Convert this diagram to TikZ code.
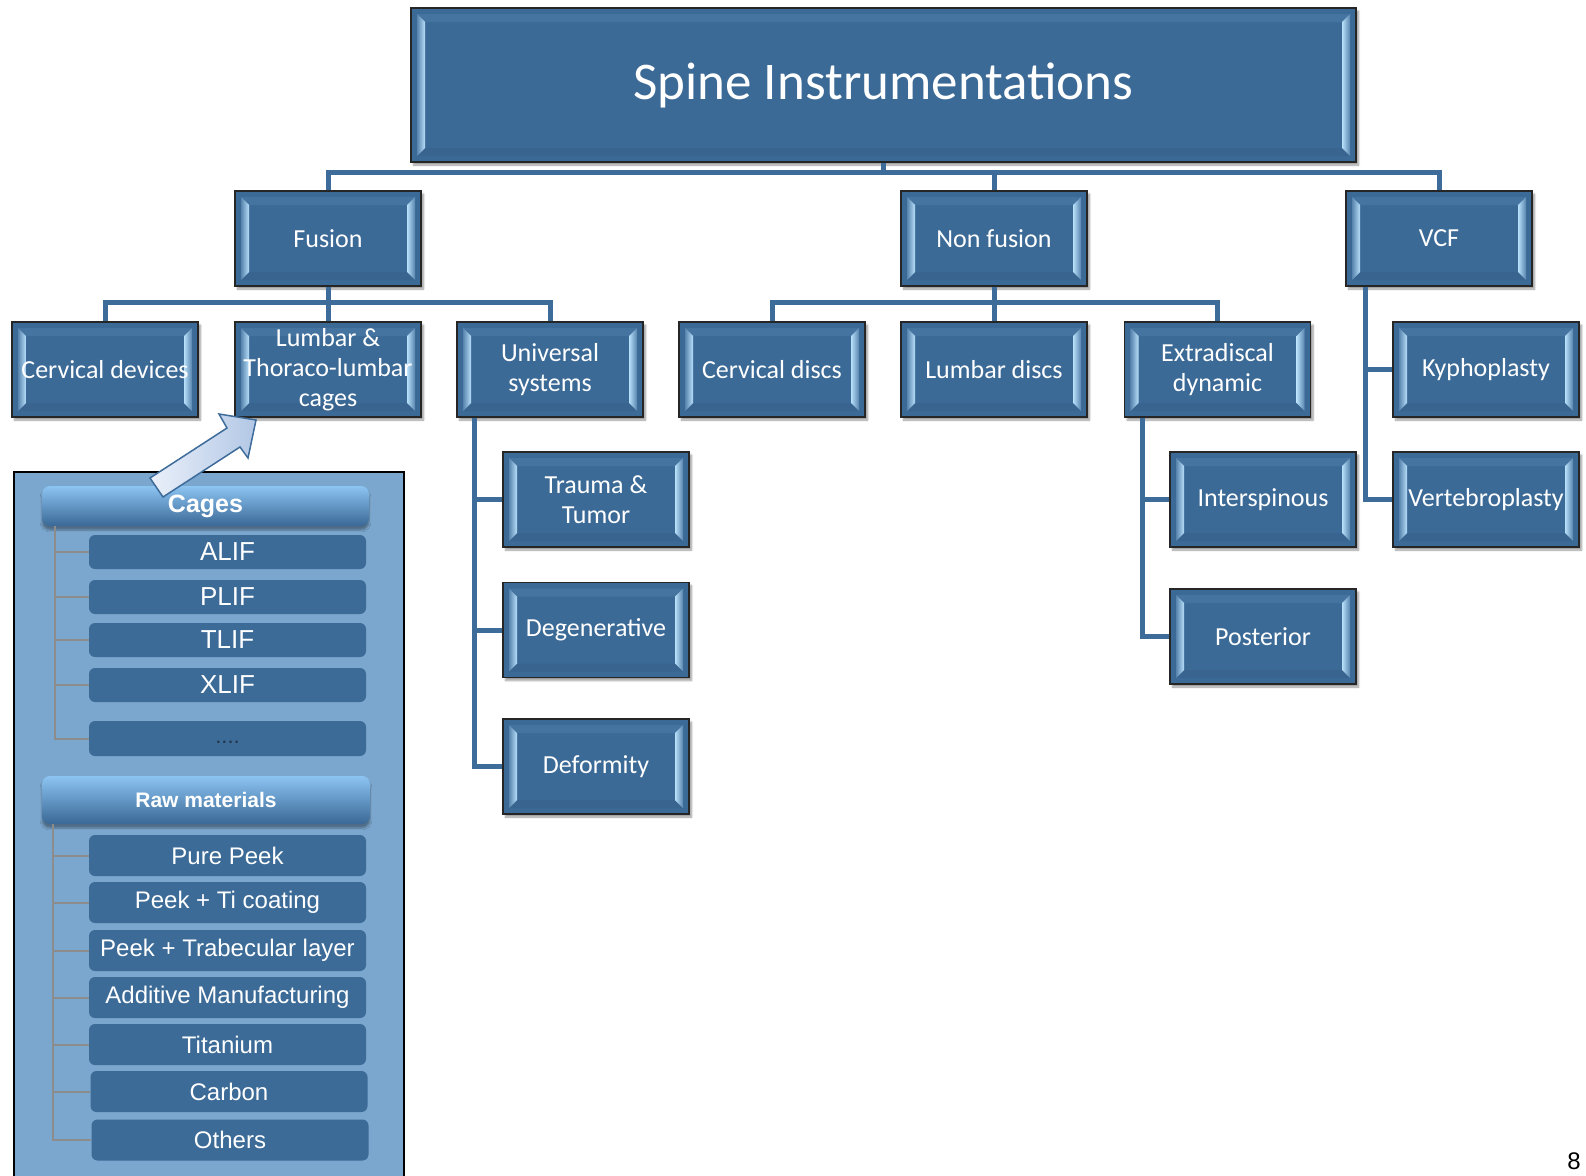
\documentclass[tikz,border=0pt]{standalone}
\usepackage{fontspec}
\setmainfont{Carlito}
\newfontfamily\arialfont{Liberation Sans}
\usetikzlibrary{shadows.blur,calc}

\definecolor{boxblue}{RGB}{60,106,150}
\definecolor{linkblue}{RGB}{62,108,154}
\definecolor{bevlight}{RGB}{184,224,250}
\definecolor{bevdark}{RGB}{88,132,174}
\definecolor{bevtop}{RGB}{70,116,160}
\definecolor{bevbot}{RGB}{56,100,143}
\definecolor{panelblue}{RGB}{123,167,206}
\definecolor{itemblue}{RGB}{60,107,152}
\definecolor{treegrey}{RGB}{140,140,140}
\definecolor{headtop}{RGB}{140,196,242}
\definecolor{headmid}{RGB}{68,118,168}
\definecolor{headbot}{RGB}{58,104,150}
\definecolor{arrowlight}{RGB}{234,240,250}
\definecolor{arrowmid}{RGB}{178,199,229}
\definecolor{dotgrey}{RGB}{36,54,76}

\tikzset{
  % bevelled edges painted inside a box
  bevel/.style={path picture={
    \fill[bevtop] let \p1=(path picture bounding box.north west),
                      \p2=(path picture bounding box.south east) in
      (\x1+6pt,\y1-6pt) -- (\x2-6pt,\y1-6pt) -- (\x2-14pt,\y1-14pt) -- (\x1+14pt,\y1-14pt) -- cycle;
    \fill[bevbot] let \p1=(path picture bounding box.north west),
                      \p2=(path picture bounding box.south east) in
      (\x1+6pt,\y2+6pt) -- (\x2-6pt,\y2+6pt) -- (\x2-14pt,\y2+14pt) -- (\x1+14pt,\y2+14pt) -- cycle;
    \shade[left color=bevdark, right color=bevlight] let \p1=(path picture bounding box.north west),
                      \p2=(path picture bounding box.south east) in
      (\x1+6pt,\y1-6pt) -- (\x1+14pt,\y1-14pt) -- (\x1+14pt,\y2+14pt) -- (\x1+6pt,\y2+6pt) -- cycle;
    \shade[left color=bevlight, right color=bevdark] let \p1=(path picture bounding box.north west),
                      \p2=(path picture bounding box.south east) in
      (\x2-6pt,\y1-6pt) -- (\x2-14pt,\y1-14pt) -- (\x2-14pt,\y2+14pt) -- (\x2-6pt,\y2+6pt) -- cycle;
  }},
  bevbox/.style={draw=black!85, line width=1.3pt, fill=boxblue, text=white, align=center,
    minimum width=186pt, minimum height=95pt, inner sep=0pt,
    font=\fontsize{26}{30}\selectfont,
    blur shadow={shadow xshift=2.5pt, shadow yshift=-3pt, shadow opacity=40, shadow blur steps=6},
    bevel},
  titlebox/.style={bevbox, minimum width=945pt, minimum height=154pt,
    font=\fontsize{53}{60}\selectfont},
  conn/.style={draw=linkblue, line width=5pt, line join=miter},
  tree/.style={draw=treegrey, line width=2pt},
  phead/.style={rounded corners=8pt, top color=headtop, middle color=headmid, bottom color=headbot,
    text=white, inner sep=0pt, minimum width=327pt,
    blur shadow={shadow xshift=0pt, shadow yshift=-4pt, shadow opacity=35, shadow blur steps=5}},
  citem/.style={fill=itemblue, rounded corners=6pt, text=white, inner sep=0pt,
    minimum width=277pt, minimum height=34pt, font=\arialfont\fontsize{26}{30}\selectfont},
  ritem/.style={citem, minimum height=41pt, font=\arialfont\fontsize{24}{28}\selectfont},
}

\begin{document}
\begin{tikzpicture}[x=1pt, y=-1pt]
\useasboundingbox (0,0) rectangle (1586,1175);

% ---- main hierarchy ----
\node[titlebox] (top) at (883.5,85) {Spine Instrumentations};

\node[bevbox] (fusion)  at (328,238.5)  {Fusion};
\node[bevbox] (nonfus)  at (994,238.5)  {Non fusion};
\node[bevbox] (vcf)     at (1439,238.5) {VCF};

\node[bevbox] (cdev)    at (105,369.5)  {Cervical devices};
\node[bevbox] (lumbar)  at (328,369.5)  {Lumbar \&\\Thoraco-lumbar\\cages};
\node[bevbox] (univ)    at (550,369.5)  {Universal\\systems};
\node[bevbox] (cdisc)   at (772,369.5)  {Cervical discs};
\node[bevbox] (ldisc)   at (994,369.5)  {Lumbar discs};
\node[bevbox] (extra)   at (1217.5,369.5) {Extradiscal\\dynamic};
\node[bevbox] (kypho)   at (1486,369.5) {Kyphoplasty};

\node[bevbox] (trauma)  at (596,499.5)  {Trauma \&\\Tumor};
\node[bevbox] (degen)   at (596,630)    {Degenerative};
\node[bevbox] (deform)  at (596,766.5)  {Deformity};
\node[bevbox] (inter)   at (1263,499.5) {Interspinous};
\node[bevbox] (post)    at (1263,636.5) {Posterior};
\node[bevbox] (vertebro) at (1486,499.5) {Vertebroplasty};

% ---- connectors ----
\draw[conn] (top.south) -- ++(0,10) -| (fusion.north);
\draw[conn] (top.south) -- ++(0,10) -| (nonfus.north);
\draw[conn] (top.south) -- ++(0,10) -| (vcf.north);

\draw[conn] (fusion.south) -- ++(0,16) -| (cdev.north);
\draw[conn] (fusion.south) -- (lumbar.north);
\draw[conn] (fusion.south) -- ++(0,16) -| (univ.north);

\draw[conn] (nonfus.south) -- ++(0,16) -| (cdisc.north);
\draw[conn] (nonfus.south) -- (ldisc.north);
\draw[conn] (nonfus.south) -- ++(0,16) -| (extra.north);

\draw[conn] ([xshift=20pt]vcf.south west) |- (kypho.west);
\draw[conn] ([xshift=20pt]vcf.south west) |- (vertebro.west);

\draw[conn] ([xshift=18pt]univ.south west) |- (trauma.west);
\draw[conn] ([xshift=18pt]univ.south west) |- (degen.west);
\draw[conn] ([xshift=18pt]univ.south west) |- (deform.west);

\draw[conn] ([xshift=19pt]extra.south west) |- (inter.west);
\draw[conn] ([xshift=19pt]extra.south west) |- (post.west);

% ---- side panel ----
\filldraw[fill=panelblue, draw=black, line width=1.5pt] (14,472) rectangle (404,1195);

\node[phead, minimum height=40pt, font=\arialfont\bfseries\fontsize{25}{28}\selectfont]
  (cages) at (205.5,506) {Cages};
\node[citem] (alif) at (227.5,552) {ALIF};
\node[citem] (plif) at (227.5,597) {PLIF};
\node[citem] (tlif) at (227.5,640) {TLIF};
\node[citem] (xlif) at (227.5,685) {XLIF};
\node[citem, minimum height=35pt] (etc) at (227.5,738.5)
  {\color{dotgrey}\fontsize{22}{22}\selectfont\raisebox{-9pt}{....}};

\foreach \n in {alif,plif,tlif,xlif,etc}
  \draw[tree] ([xshift=13pt]cages.south west) |- (\n.west);

\node[phead, minimum width=328pt, minimum height=48pt, font=\arialfont\bfseries\fontsize{21}{24}\selectfont]
  (raw) at (206,800) {Raw materials};
\node[ritem] (peek)   at (227.5,855.5)  {Pure Peek};
\node[ritem] (peekti) at (227.5,902.5)  {Peek + Ti coating};
\node[ritem] (peektr) at (227.5,950.5)  {Peek + Trabecular layer};
\node[ritem] (addm)   at (227.5,997.5)  {Additive Manufacturing};
\node[ritem] (titan)  at (227.5,1044.5) {Titanium};
\node[ritem] (carbon) at (229,1091.5)   {Carbon};
\node[ritem] (others) at (230,1140)     {Others};

\foreach \n in {peek,peekti,peektr,addm,titan,carbon,others}
  \draw[tree] ([xshift=11pt]raw.south west) |- (\n.west);

% block arrow pointing from the panel to the cages box
\shade[left color=arrowlight, right color=arrowmid, draw=linkblue, line width=1.5pt, line join=miter]
  (150,478) -- (227,428) -- (219,414) -- (256,420) -- (248,458) -- (240,447) -- (163,497) -- cycle;

% page number
\node[font=\arialfont\fontsize{24}{28}\selectfont] (pg) at (1574,1161) {8};
\end{tikzpicture}
\end{document}
